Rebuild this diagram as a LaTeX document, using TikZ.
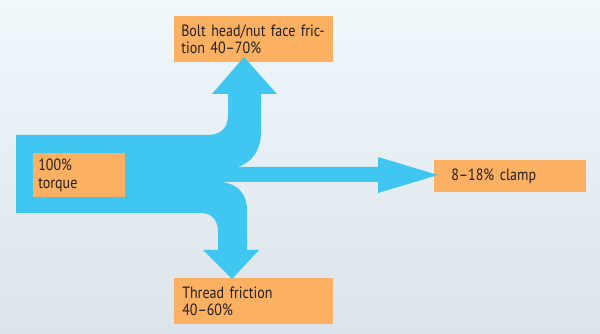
\documentclass[tikz,border=0pt]{standalone}
\usepackage{fontspec}
\setmainfont{PT Sans}[FakeStretch=0.86]
\definecolor{flowblue}{HTML}{3FC7F2}
\definecolor{boxorange}{HTML}{FCB062}
\definecolor{bgtop}{HTML}{F1F8FC}
\definecolor{bgbottom}{HTML}{DCE4EB}
\definecolor{ink}{HTML}{231F20}

\begin{document}
\begin{tikzpicture}[
    x=0.025cm, y=-0.025cm,
    box/.style={fill=boxorange, text=ink, align=left, anchor=north west,
        inner ysep=0pt, font=\fontsize{11.6}{12.3}\selectfont},
    flow/.style={fill=flowblue}
]
    \useasboundingbox (0,0) rectangle (600,334);
    \shade[top color=bgtop, bottom color=bgbottom] (0,0) rectangle (600,334);
    \node[box, text width=3.625cm, minimum height=1.15cm, inner xsep=0.175cm] (bolt) at (174,16) {Bolt head/nut face fric-\\tion 40--70\%};
    \node[box, text width=2.95cm, minimum height=0.8cm, inner xsep=0.425cm] (clamp) at (434,160) {8--18\% clamp};
    \node[box, text width=3.575cm, minimum height=1.15cm, inner xsep=0.2cm] (thread) at (174,278) {Thread friction\\40--60\%};
    \fill[flow] (16,135) -- (207,135) .. controls (221,135) and (228,128) .. (228,115)
        -- (228,94) -- (212,94) -- (244,57) -- (277,94) -- (261,94) -- (261,132)
        .. controls (261,150) and (252,163) .. (237,167)
        -- (378,167) -- (378,157) -- (438,175) -- (378,193) -- (378,182) -- (222,182)
        .. controls (238,184) and (247,194) .. (247,210)
        -- (247,250) -- (259,250) -- (232,279) -- (203,250) -- (218,250) -- (218,232)
        .. controls (218,220) and (212,213) .. (200,213)
        -- (16,213) -- cycle;
    \node[box, text width=2.05cm, minimum height=1.1cm, inner xsep=0.125cm] (torque) at (33,153) {100\%\\torque};
\end{tikzpicture}
\end{document}
